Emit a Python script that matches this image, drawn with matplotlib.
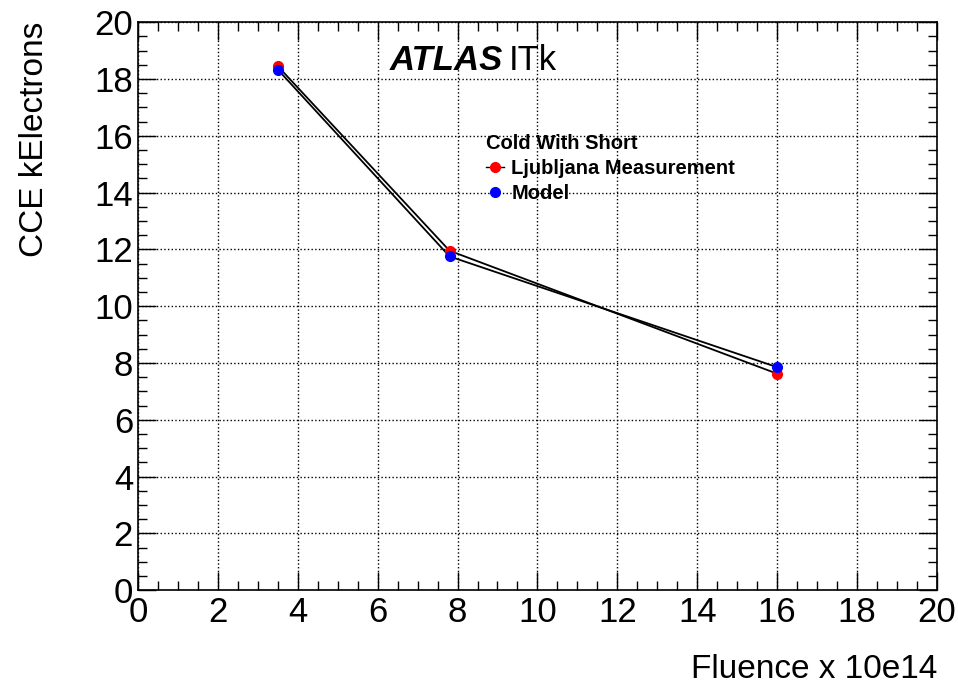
import matplotlib.pyplot as plt
from matplotlib.lines import Line2D
from matplotlib.ticker import MultipleLocator

plt.rcParams['font.family'] = ['Liberation Sans', 'DejaVu Sans']

fluence = [3.5, 7.8, 16.0]
cce_measured = [18.45, 11.95, 7.62]
cce_model = [18.33, 11.75, 7.85]

fig = plt.figure(figsize=(9.58, 6.91), dpi=100)
ax = fig.add_axes([0.144, 0.146, 0.834, 0.822])

ax.plot(fluence, cce_measured, color="black", lw=1.3, zorder=2)
ax.plot(fluence, cce_model, color="black", lw=1.3, zorder=2)
ax.plot(fluence, cce_measured, "o", color="red", ms=7, zorder=3)
ax.plot(fluence, cce_model, "o", color="blue", ms=7, zorder=4)

ax.set_xlim(0, 20)
ax.set_ylim(0, 20)
ax.xaxis.set_major_locator(MultipleLocator(2))
ax.xaxis.set_minor_locator(MultipleLocator(0.5))
ax.yaxis.set_major_locator(MultipleLocator(2))
ax.yaxis.set_minor_locator(MultipleLocator(0.5))
ax.tick_params(which="both", direction="in", top=True, right=True,
               labelsize=25, width=1)
ax.tick_params(which="major", length=13)
ax.tick_params(which="minor", length=6.5)
ax.tick_params(axis="x", pad=4)
ax.grid(True, which="major", linestyle=":", color="black", lw=1)
for s in ax.spines.values():
    s.set_linewidth(1.2)

ax.set_xlabel("Fluence x 10e14", fontsize=24, loc="right", labelpad=18)
ax.set_ylabel("CCE kElectrons", fontsize=24, loc="top", labelpad=32)

ax.text(0.315, 0.915, "ATLAS", transform=ax.transAxes, fontsize=25,
        fontweight="bold", fontstyle="italic")
ax.text(0.4635, 0.915, "ITk", transform=ax.transAxes, fontsize=25)

handles = [
    Line2D([], [], color="black", lw=1, marker="o", mfc="red", mec="red", ms=7),
    Line2D([], [], ls="none", marker="o", mfc="blue", mec="blue", ms=7),
]
labels = ["Ljubljana Measurement", "Model"]
leg = ax.legend(handles, labels, loc="upper left", bbox_to_anchor=(0.436, 0.803),
                frameon=False, title="Cold With Short",
                prop={"weight": "bold", "size": 14.5},
                handlelength=0.9, handletextpad=0.35, labelspacing=0.3,
                borderaxespad=0, borderpad=0)
leg.get_title().set_fontweight("bold")
leg.get_title().set_fontsize(14.5)
leg._legend_box.align = "left"

plt.savefig("out.png")
